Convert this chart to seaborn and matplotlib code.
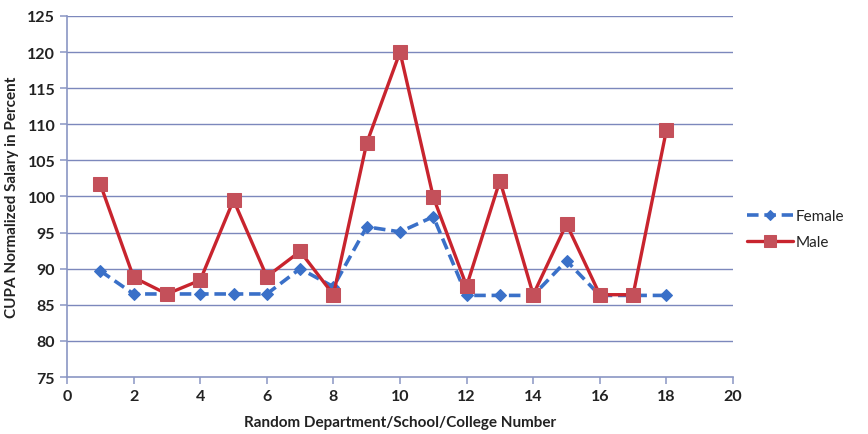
import matplotlib
matplotlib.use("Agg")
import matplotlib.pyplot as plt
import seaborn as sns
import numpy as np

departments = list(range(1, 19))
female = [89.7, 86.5, 86.5, 86.5, 86.5, 86.5, 90.0, 87.5, 95.8, 95.1, 97.2,
          86.3, 86.3, 86.3, 91.1, 86.3, 86.3, 86.3]
male = [101.7, 88.8, 86.5, 88.4, 99.5, 88.9, 92.4, 86.4, 107.4, 120.0, 99.9,
        87.6, 102.2, 86.4, 96.2, 86.4, 86.4, 109.2]
x_ticks = [0, 2, 4, 6, 8, 10, 12, 14, 16, 18, 20]
y_ticks = [75, 80, 85, 90, 95, 100, 105, 110, 115, 120, 125]

sns.set_style("white")
plt.rcParams["font.family"] = ["Lato", "DejaVu Sans"]

fig = plt.figure(figsize=(8.68, 4.35), dpi=100)
ax = fig.add_axes([0.0772, 0.131, 0.7673, 0.830])

axis_col = "#8a96c4"
grid_col = "#7c88bc"

for y in y_ticks[1:]:
    ax.axhline(y, color=grid_col, lw=1.0, zorder=0)

sns.lineplot(x=departments, y=female, ax=ax, color="#3a70c8", lw=2.6,
             linestyle=(0, (3.2, 1.6)), marker="D", markersize=6.5,
             markerfacecolor="#3a70c8", markeredgecolor="#3a70c8",
             label="Female", zorder=3)
sns.lineplot(x=departments, y=male, ax=ax, color="#c8242e", lw=2.4,
             marker="s", markersize=10, markerfacecolor="#c4505a",
             markeredgecolor="#c4505a", label="Male", zorder=4)

ax.set_xlim(0, 20)
ax.set_ylim(75, 125)
ax.set_xticks(x_ticks)
ax.set_yticks(y_ticks)
for side in ("top", "right"):
    ax.spines[side].set_visible(False)
for side in ("left", "bottom"):
    ax.spines[side].set_color(axis_col)
    ax.spines[side].set_linewidth(1.2)
ax.tick_params(axis="both", which="major", direction="out", length=5,
               width=1.1, color=axis_col, labelsize=11.5, labelcolor="#222222",
               bottom=True, left=True)
for lbl in ax.get_xticklabels() + ax.get_yticklabels():
    lbl.set_fontweight("bold")

ax.set_xlabel("Random Department/School/College Number", fontsize=11,
              fontweight="bold", color="#222222", labelpad=9)
ax.set_ylabel("CUPA Normalized Salary in Percent", fontsize=11,
              fontweight="bold", color="#222222", labelpad=6)

leg = ax.legend(loc="center left", bbox_to_anchor=(1.0, 0.41), frameon=False,
                fontsize=11, handlelength=3.0, handletextpad=0.2,
                labelspacing=0.8, markerscale=0.8)
for t in leg.get_texts():
    t.set_color("#222222")

fig.savefig("out.png", dpi=100, facecolor="white")
